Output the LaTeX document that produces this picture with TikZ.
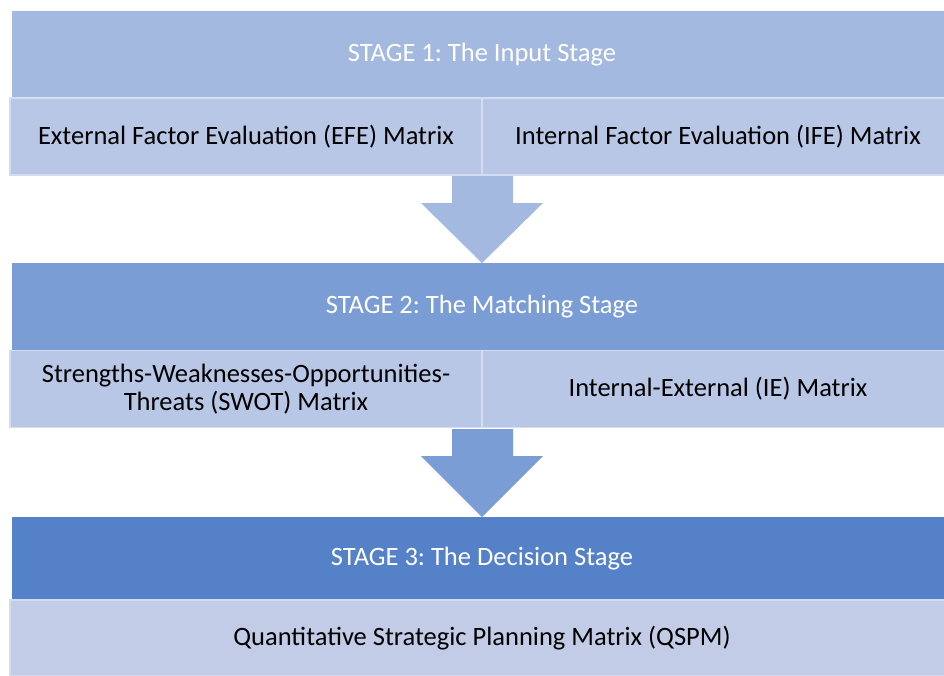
\documentclass[tikz,border=0pt]{standalone}
\usepackage{fontspec}
\setmainfont{Carlito}
\usetikzlibrary{positioning}
\definecolor{hdrA}{HTML}{A3B9E0}
\definecolor{hdrB}{HTML}{7B9DD6}
\definecolor{hdrC}{HTML}{5581C9}
\definecolor{cellA}{HTML}{B9C7E6}
\definecolor{cellC}{HTML}{C2CCE7}
\definecolor{cellline}{HTML}{D3DCF0}
\frenchspacing

\begin{document}
\begin{tikzpicture}
    [x=1pt,y=-1pt,every node/.style={inner sep=0pt, font=\fontsize{26.5}{28}\selectfont},
     hdr/.style={text=white, minimum width=940pt, minimum height=87pt},
     cell/.style={fill=cellA, draw=cellline, line width=1.5pt, minimum width=472pt, minimum height=77pt, align=center}]
  \useasboundingbox (0,0) rectangle (944,675);
  \clip (0,0) rectangle (944,675);

  % stage 1
  \node[hdr, fill=hdrA] (stage1) at (482,54.5) {STAGE 1: The Input Stage};
  \node[cell] (efe) at (246,136.5) {External Factor Evaluation (EFE) Matrix};
  \node[cell] (ife) at (718,136.5) {Internal Factor Evaluation (IFE) Matrix};

  % stage 2
  \node[hdr, fill=hdrB] (stage2) at (482,306.5) {STAGE 2: The Matching Stage};
  \node[cell] (swot) at (246,389) {Strengths-Weaknesses-Opportunities-\\Threats (SWOT) Matrix};
  \node[cell] (iem) at (718,389) {Internal-External (IE) Matrix};

  % stage 3
  \node[hdr, fill=hdrC, minimum height=83pt] (stage3) at (482,558.5) {STAGE 3: The Decision Stage};
  \node[cell, fill=cellC, minimum width=944pt, minimum height=76pt] (qspm) at (482,638) {Quantitative Strategic Planning Matrix (QSPM)};

  % block arrows between the stages
  \foreach \top/\len/\col in {176/87/hdrA, 429/88/hdrB}
    \fill[\col] (452,\top) -- (513,\top) -- (513,\top+27) -- (543,\top+27)
      -- (482,\top+\len) -- (421,\top+27) -- (452,\top+27) -- cycle;
\end{tikzpicture}
\end{document}
